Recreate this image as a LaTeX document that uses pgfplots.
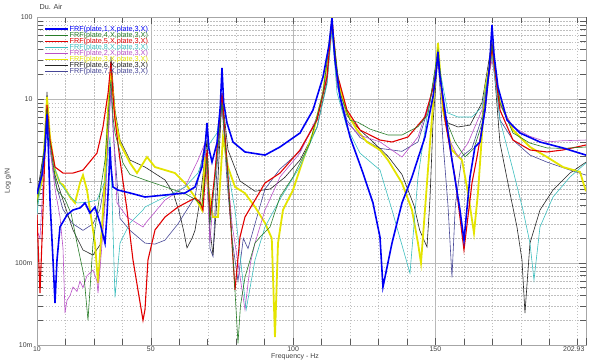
\documentclass[border=0pt]{standalone}
\usepackage{pgfplots}
\pgfplotsset{compat=1.18}
\usepackage{fontspec}
\setmainfont{Liberation Sans}
\definecolor{cblue}{RGB}{0,0,245}
\definecolor{cgreen}{RGB}{40,125,40}
\definecolor{cred}{RGB}{225,0,0}
\definecolor{ccyan}{RGB}{60,190,190}
\definecolor{cmag}{RGB}{185,80,200}
\definecolor{cyel}{RGB}{228,228,0}
\definecolor{cblack}{RGB}{35,35,35}
\definecolor{cslate}{RGB}{70,70,150}
\begin{document}
\begin{tikzpicture}
\begin{axis}[
  at={(37bp,15bp)}, anchor=south west,
  scale only axis, width=549bp, height=328bp,
  xmin=10, xmax=202.93, ymin=0.01, ymax=100,
  ymode=log,
  xtick={10,50,100,150},
  xticklabels={10,50,100,150},
  extra x ticks={202.93},
  extra x tick labels={202.93},
  extra x tick style={grid=none, xticklabel style={anchor=north east, xshift=2bp}},
  minor xtick={20,30,40,60,70,80,90,110,120,130,140,160,170,180,190,200},
  ytick={0.01,0.1,1,10,100},
  yticklabels={10m,100m,1,10,100},
  /pgf/number format/assume math mode=true,
  tick label style={font=\fontsize{7}{8}\selectfont, text=black!75},
  xticklabel style={yshift=1.5bp},
  yticklabel style={xshift=-1bp},
  tick align=inside,
  major tick length=7bp, minor tick length=6bp,
  every tick/.style={black!65, line width=0.5pt},
  grid=both,
  major grid style={black!28, line width=0.4pt},
  minor grid style={black!25, dash pattern=on 1.5pt off 1.5pt, line width=0.35pt},
  axis line style={black!35, line width=0.6pt},
  xlabel={Frequency - Hz},
  xlabel style={at={(axis description cs:0.47,-0.035)}, anchor=center, font=\fontsize{7}{8}\selectfont, text=black!75},
  ylabel={Log g/N},
  ylabel style={at={(axis description cs:-0.053,0.5)}, anchor=center, rotate=0, font=\fontsize{7}{8}\selectfont, text=black!75},
  title={Du. Air},
  title style={at={(axis description cs:0,1)}, anchor=south west, xshift=-1bp, yshift=-2.5bp, font=\fontsize{7.3}{8}\selectfont, text=black!75},
  legend style={at={(axis description cs:0,1)}, anchor=north west, xshift=7bp, yshift=-8bp,
    draw=none, fill=none, font=\fontsize{7.3}{7.3}\selectfont, row sep=-1.9bp, inner sep=0pt,
    nodes={inner sep=0.6bp}},
  legend cell align=left,
  legend image code/.code={\draw[#1] (0bp,0bp) -- (23bp,0bp);},
]
\addlegendimage{cblue, line width=1.6pt}
\addlegendentry{\textcolor{cblue}{FRF(plate,1,X,plate,3,X)}}
\addlegendimage{cgreen, line width=0.6pt}
\addlegendentry{\textcolor{cgreen}{FRF(plate,4,X,plate,3,X)}}
\addlegendimage{cred, line width=1.1pt}
\addlegendentry{\textcolor{cred}{FRF(plate,5,X,plate,3,X)}}
\addlegendimage{ccyan, line width=0.6pt}
\addlegendentry{\textcolor{ccyan}{FRF(plate,8,X,plate,3,X)}}
\addlegendimage{cmag, line width=0.6pt}
\addlegendentry{\textcolor{cmag}{FRF(plate,2,X,plate,3,X)}}
\addlegendimage{cyel, line width=1.8pt}
\addlegendentry{\textcolor{cyel}{FRF(plate,3,X,plate,3,X)}}
\addlegendimage{cblack, line width=0.6pt}
\addlegendentry{\textcolor{cblack}{FRF(plate,6,X,plate,3,X)}}
\addlegendimage{cslate, line width=0.6pt}
\addlegendentry{\textcolor{cslate}{FRF(plate,7,X,plate,3,X)}}

% plate 7 (slate)
\addplot[cslate, line width=0.6pt, forget plot] coordinates {
(10,0.6) (12.46,2.0) (13.51,7.0) (14.57,2.5) (16.33,1.0) (19.14,0.45) (22.65,0.3) (26.16,0.25) (29.68,0.3) (32.14,0.45) (33.9,1.0) (35.3,5) (36.0,14) (36.8,4) (38.11,1.0) (39.17,0.35) (42.68,0.25) (47.95,0.175) (51.47,0.17) (54.98,0.19) (59.55,0.3) (65.52,0.64) (67.5,1.5) (69.74,4) (70.79,0.15) (71.85,0.12) (73.25,1.5) (75.01,9) (76.77,1.0) (78.52,0.2) (80.63,0.06) (82.5,0.2) (84.15,0.15) (86.61,0.3) (90.12,0.8) (95.39,1.4) (102.42,2.3) (108.39,5.5) (111.91,18) (113.66,85) (115.42,15) (118.93,5.5) (123.5,3.4) (130.53,2.5) (138.26,2.3) (143.89,3.0) (148.1,9) (150.91,35) (152.67,3) (154.43,0.5) (155.83,0.067) (157.0,0.5) (159.35,2.0) (162.86,2.5) (166.37,6) (169.89,45) (172.7,5.55) (177.27,3.16) (183.24,2.07) (189.22,1.7) (197.3,1.36) (202.93,1.18)
};
% plate 6 (black)
\addplot[cblack, line width=0.6pt, forget plot] coordinates {
(10,0.675) (12.46,2.39) (13.51,12.2) (14.57,3.16) (16.33,1.18) (19.14,0.586) (22.65,0.253) (26.16,0.144) (29.68,0.125) (32.14,0.166) (33.9,0.586) (34.95,4.19) (36.0,32.5) (37.41,7.34) (39.17,3.16) (42.68,1.8) (47.95,1.48) (54.98,1.03) (58.0,0.7) (60.25,0.385) (61.5,0.25) (62.71,0.153) (64.47,0.2) (65.52,0.25) (67.28,0.586) (69.74,3.16) (70.79,0.253) (71.85,0.125) (73.25,0.586) (75.01,11.2) (77.12,2.39) (81.33,1.0) (86.61,0.75) (92,0.8) (97,1.1) (102.42,1.8) (108.39,4.5) (111.91,16) (113.66,80) (115.42,17) (118.93,6.3) (123.5,4.19) (128.07,3.0) (133.34,2.0) (138.26,1.2) (142.5,0.5) (144.5,0.25) (147.05,0.157) (148.1,0.6) (149.15,5) (150.91,35) (152.67,8) (154.43,5.1) (157.94,4.56) (162.16,4.8) (166.37,9) (169.89,50) (172.7,2.9) (176.21,0.71) (178.67,0.275) (180.43,0.109) (181.48,0.0245) (183.24,0.175) (186.76,0.443) (191.33,0.776) (197.3,1.25) (202.93,1.7)
};
% plate 3 (yellow)
\addplot[cyel, line width=1.8pt, forget plot] coordinates {
(10,0.586) (11.76,1.0) (12.81,3.5) (13.51,10.6) (14.57,3.44) (16.33,1.36) (18.08,0.945) (19.14,0.9) (21.6,0.638) (23.35,0.54) (25.11,0.945) (26.16,1.18) (27.57,0.776) (28.62,0.443) (30.38,0.175) (31.44,0.057) (32.84,0.275) (33.9,1.12) (34.95,7.34) (36.0,22.6) (37.41,6.03) (39.17,2.9) (42.68,1.66) (45.14,1.25) (48.65,1.96) (51.47,1.48) (54.98,1.36) (58.49,1.25) (62.01,0.945) (65.52,0.638) (67.98,0.443) (69.04,1.96) (70.09,0.845) (71.85,0.364) (73.6,0.364) (75.36,3.44) (77.12,1.48) (79.58,0.845) (83.09,0.71) (86.61,0.482) (90.12,0.308) (92.5,0.2) (93.63,0.0125) (94.69,0.175) (96.44,0.443) (99.96,0.776) (103.47,1.8) (106.99,3.85) (110.5,11.8) (113.66,84.5) (115.42,18.5) (118.93,6.75) (122.45,4.19) (125.96,2.99) (130.53,2.39) (133.34,1.8) (138.26,0.945) (141.78,0.443) (143.89,0.175) (144.94,0.1) (146.34,0.443) (148.1,2.9) (150.91,48.2) (152.67,7.34) (155.83,2.39) (159.35,1.8) (161.46,0.714) (163.56,0.232) (164.97,0.714) (167.43,12.9) (169.89,36.4) (172.7,8.93) (177.27,4.19) (183.24,2.6) (189.22,1.96) (194.84,1.48) (200.82,1.29) (202.0,0.945) (202.93,0.75)
};
% plate 2 (magenta)
\addplot[cmag, line width=0.6pt, forget plot] coordinates {
(10,0.25) (11.05,0.2) (12.46,1.5) (13.51,7.34) (14.57,2.5) (16.33,0.8) (18.08,0.364) (19.14,0.15) (19.84,0.0245) (20.54,0.035) (21.6,0.04) (22.65,0.051) (24.06,0.045) (25.11,0.06) (26.16,0.05) (27.57,0.07) (29.68,0.082) (31.08,0.06) (31.44,0.043) (32.5,0.12) (33.9,0.5) (35.3,5) (36.0,16) (36.8,4) (38.11,0.54) (41.63,0.364) (47.25,0.275) (47.95,0.3) (54.98,0.586) (62.01,0.845) (66.58,1.8) (69.04,2.9) (70.79,0.175) (73.25,2.9) (75.01,8.0) (76.77,1.5) (78.52,0.3) (80.63,0.1) (83.09,0.027) (85.0,0.1) (86.61,0.175) (90.12,0.443) (95.39,1.12) (102.42,2.19) (108.39,6) (111.91,20) (113.66,75) (115.42,15) (118.93,5.1) (123.5,3.6) (130.53,3.0) (138.26,1.96) (143.89,3.44) (148.1,10) (150.91,30) (154.43,3.44) (157.94,1.96) (161.46,2.9) (166.37,7.34) (169.89,30) (172.7,8.5) (177.27,4.56) (183.24,3.5) (189.22,3.0) (194.84,3.1) (202.93,3.16)
};
% plate 8 (cyan)
\addplot[ccyan, line width=0.6pt, forget plot] coordinates {
(10,0.4) (12.46,2.0) (13.51,7.34) (14.57,3.0) (16.33,1.4) (18.08,0.945) (21.6,0.65) (24.06,0.54) (27.57,0.55) (31.08,0.586) (33.9,1.0) (35.65,3.44) (36.2,1.0) (37.41,0.038) (39.17,0.175) (42.68,0.308) (47.25,0.443) (47.95,0.482) (54.98,0.638) (62.01,0.845) (66.58,1.25) (69.04,2.19) (70.79,2.9) (73.25,3.85) (75.01,10.6) (77.12,1.36) (79.58,0.443) (83.5,0.027) (86.61,0.109) (90.12,0.275) (95.39,0.6) (102.42,1.5) (108.39,4.5) (111.91,15) (113.66,70) (115.42,12) (118.93,4.5) (123.5,2.19) (130.53,1.36) (134.75,0.443) (141.07,0.075) (143.89,1.12) (147.4,7.34) (150.91,29.9) (154.43,6.75) (157.94,6.03) (162.86,6.03) (166.37,8.0) (169.89,34.4) (172.7,5.55) (177.27,1.36) (180.78,0.443) (183.24,0.175) (184.65,0.062) (186.76,0.275) (191.33,0.638) (197.3,1.12) (202.93,1.66)
};
% plate 5 (red)
\addplot[cred, line width=1.1pt, forget plot] coordinates {
(10,0.385) (11.05,0.043) (11.76,0.19) (12.81,2.39) (13.51,8.45) (14.57,3.16) (16.33,1.48) (19.14,1.25) (22.65,1.25) (26.16,1.36) (31.08,2.19) (33.19,4.56) (35.0,12) (36.0,28.3) (36.8,10) (37.41,5.55) (39.17,1.8) (41.63,0.443) (43.73,0.109) (47.25,0.02) (47.95,0.027) (49.0,0.109) (51.47,0.253) (54.98,0.364) (59.55,0.482) (65.52,0.62) (67.28,0.555) (68.33,0.443) (69.74,2.39) (70.79,0.364) (72.5,1.2) (75.01,11.8) (77.12,1.12) (78.52,0.175) (79.58,0.047) (81.33,0.207) (83.09,0.364) (86.61,0.586) (90.12,0.945) (95.39,1.25) (102.42,2.39) (108.39,5.55) (111.91,18.5) (113.66,95) (115.42,20.7) (118.93,7.34) (123.5,4.19) (130.53,3.16) (134.75,2.99) (140.37,3.44) (146.34,6.03) (149.5,15) (150.91,32.5) (153.37,5.55) (156.89,1.12) (160.05,0.144) (162.86,0.945) (164.62,1.96) (167.43,7.34) (169.89,43) (172.7,7.34) (177.27,3.16) (183.24,2.39) (189.22,2.26) (194.84,2.39) (202.93,2.75)
};
% plate 4 (green)
\addplot[cgreen, line width=0.6pt, forget plot] coordinates {
(10,0.51) (12.46,2.39) (13.51,7.76) (14.57,2.9) (17.03,0.776) (19.84,0.6) (22.0,0.4) (24.06,0.175) (26.5,0.07) (27.92,0.02) (29.68,0.175) (32.14,0.714) (33.9,1.8) (35.65,12.9) (36.0,17) (36.71,6) (37.41,3.85) (40.22,1.66) (42.68,1.2) (47.95,1.03) (54.98,0.85) (62.01,0.7) (65.52,0.6) (67.98,0.5) (69.74,2.0) (70.79,0.3) (72.5,1.0) (75.01,9) (77.12,1.0) (78.52,0.2) (80.63,0.0105) (81.5,0.03) (83.09,0.067) (86.61,0.175) (88.36,0.207) (91.88,0.275) (95.39,0.64) (99.96,1.12) (105.93,2.9) (110.5,11.8) (113.66,84.5) (116.47,11.8) (120,5.5) (122.8,5.2) (127,4.3) (133.34,3.64) (138.26,3.64) (143.89,4.6) (147.4,6.5) (150.91,40) (153.37,6) (156.89,3.0) (160.4,1.96) (163.56,2.5) (166.37,5) (169.89,45) (172.7,9) (177.27,3.85) (183.24,2.9) (189.22,2.53) (194.84,2.5) (202.93,2.6)
};
% plate 1 (blue)
\addplot[cblue, line width=1.6pt, forget plot] coordinates {
(10,0.7) (10.35,0.78) (11.76,1.18) (12.81,2.39) (13.2,4.0) (13.51,6.5) (14.0,2.5) (14.57,0.586) (15.62,0.109) (16.33,0.0325) (17.03,0.109) (18.08,0.275) (20.54,0.385) (22.65,0.443) (25.11,0.47) (26.87,0.54) (28.62,0.407) (30.38,0.482) (32.14,0.308) (33.9,0.175) (34.6,0.385) (35.3,1.2) (35.65,2.6) (36.0,1.5) (36.71,0.845) (38.46,0.776) (42.68,0.714) (47.95,0.638) (54.98,0.675) (62.01,0.714) (65.52,0.845) (67.98,1.48) (69.2,3.0) (69.74,5.1) (70.4,2.5) (71.5,1.7) (73.25,2.9) (74.4,8) (75.01,23.9) (75.6,9) (76.77,5.1) (78.87,2.99) (83.09,2.26) (90.12,2.07) (95.39,2.6) (102.42,3.85) (106.99,7.34) (110.5,18.5) (112.6,45) (113.66,97) (114.2,50) (114.71,29.9) (116.47,10.6) (120,3.44) (124.56,1.25) (128.07,0.54) (130.53,0.207) (131.58,0.051) (134.75,0.175) (138.26,0.54) (141.78,1.12) (146.34,3.44) (149.15,10.6) (150.3,22) (150.91,37.4) (151.5,20) (152.67,10.6) (155.83,1.8) (158.64,0.443) (160.05,0.19) (162.16,1.12) (163.91,2.6) (165.67,2.99) (167.43,7.34) (169.0,25) (169.89,80) (170.6,35) (171.99,14) (175.16,5.55) (179.73,3.85) (186.76,2.99) (194.84,2.53) (202.93,2.07)
};
\end{axis}
\pgfresetboundingbox
\path[use as bounding box] (0,0) rectangle (591bp,360bp);
\end{tikzpicture}
\end{document}
